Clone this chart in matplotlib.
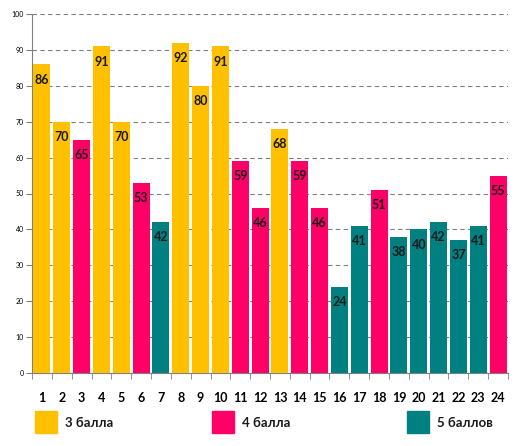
import matplotlib
matplotlib.use("Agg")
import matplotlib.pyplot as plt
from matplotlib import patches as mpatches

# data
students = list(range(1, 25))
scores = [86, 70, 65, 91, 70, 53, 42, 92, 80, 91, 59, 46,
          68, 59, 46, 24, 41, 51, 38, 40, 42, 37, 41, 55]
grades = [3, 3, 4, 3, 3, 4, 5, 3, 3, 3, 4, 4,
          3, 4, 4, 5, 5, 4, 5, 5, 5, 5, 5, 4]
legend_labels = ["3 балла", "4 балла", "5 баллов"]

colors = {3: "#FFC000", 4: "#FF0066", 5: "#008080"}
plt.rcParams['font.family'] = ['Lato', 'DejaVu Sans']

fig = plt.figure(figsize=(5.16, 4.46), dpi=100)
ax = fig.add_axes([32 / 516, 73 / 446, 476 / 516, 359 / 446])

bar_colors = [colors[g] for g in grades]
bars = ax.bar(students, scores, width=0.86, color=bar_colors, zorder=3)

for b, v in zip(bars, scores):
    ax.annotate(str(v), (b.get_x() + b.get_width() / 2, v),
                xytext=(0, -11), textcoords="offset points",
                ha="center", va="center", fontsize=9, fontweight="bold",
                color="#1a1a1a", zorder=4)

ax.set_xlim(0.5, 24.5)
ax.set_ylim(0, 100)
ax.set_yticks(range(0, 101, 10))
ax.tick_params(axis="y", labelsize=5, length=4, color="#808080", pad=2)
ax.set_xticks(students)
ax.set_xticklabels([str(s) for s in students], fontsize=9, fontweight="bold")
ax.tick_params(axis="x", length=0, pad=14)
# tick marks between categories
ax.set_xticks([s + 0.5 for s in range(0, 25)], minor=True)
ax.tick_params(axis="x", which="minor", length=4, color="#808080")

ax.yaxis.grid(True, linestyle=(0, (4, 3)), color="#808080", linewidth=0.8, zorder=0)
for side in ["top", "right"]:
    ax.spines[side].set_visible(False)
ax.spines["left"].set_color("#808080")
ax.spines["bottom"].set_color("#808080")

# legend squares drawn in figure coordinates
legend_x = [35, 212, 407]
for lx, lbl, g in zip(legend_x, legend_labels, [3, 4, 5]):
    fig.patches.append(mpatches.Rectangle((lx / 516, (446 - 433) / 446), 22 / 516, 22 / 446,
                                          transform=fig.transFigure, color=colors[g]))
    fig.text((lx + 30) / 516, (446 - 423) / 446, lbl, fontsize=9.5, fontweight="bold",
             va="center", ha="left", color="#1a1a1a")

fig.savefig("out.png", dpi=100)
